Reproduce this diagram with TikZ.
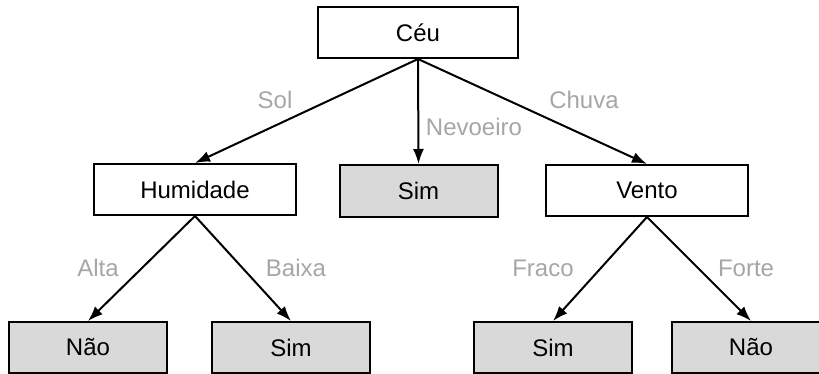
\documentclass[tikz,border=0pt]{standalone}
\usepackage{fontspec}
\setmainfont{Liberation Sans}
\usetikzlibrary{arrows.meta}
\definecolor{valgray}{HTML}{A6A6A6}
\definecolor{leafgray}{HTML}{D9D9D9}
\tikzset{
  attr/.style={draw,line width=2pt,minimum width=202pt,minimum height=51pt,inner sep=0pt},
  leaf/.style={attr,fill=leafgray,minimum width=158pt},
  val/.style={text=valgray,inner sep=0pt},
  edge/.style={->,line width=2pt}
}

\begin{document}
\begin{tikzpicture}[>={Latex[length=15pt,width=11pt]},x=1pt,y=-1pt,font=\fontsize{24}{28}\selectfont]
		\useasboundingbox (0,0) rectangle (819,374);

		\node[attr,minimum width=200pt] (ceu) at (418,32.5) {Céu};
		\node[attr] (hum) at (195,189.5) {Humidade};
		\node[leaf,minimum height=52pt] (nev) at (418.5,191) {Sim};
		\node[attr] (vento) at (647,190.5) {Vento};

		\node[leaf] (alta) at (88,347.5) {Não};
		\node[leaf] (baixa) at (291,347.5) {Sim};
		\node[leaf] (fraco) at (553,347.5) {Sim};
		\node[leaf] (forte) at (751,347.5) {Não};

		\draw[edge] (ceu.south) -- (hum.north);
		\draw[edge] (ceu.south) -- (nev.north);
		\draw[edge] (ceu.south) -- (vento.north);
		\draw[edge] (hum.south) -- (alta.north);
		\draw[edge] (hum.south) -- (baixa.north);
		\draw[edge] (vento.south) -- (fraco.north);
		\draw[edge] (vento.south) -- (forte.north);

		\node[val] (lsol) at (275,100) {Sol};
		\node[val] (lnev) at (474,127) {Nevoeiro};
		\node[val] (lchuva) at (584,100) {Chuva};
		\node[val] (lalta) at (98,268) {Alta};
		\node[val] (lbaixa) at (296,268) {Baixa};
		\node[val] (lfraco) at (543,268) {Fraco};
		\node[val] (lforte) at (746,268) {Forte};

	\end{tikzpicture}
\end{document}
